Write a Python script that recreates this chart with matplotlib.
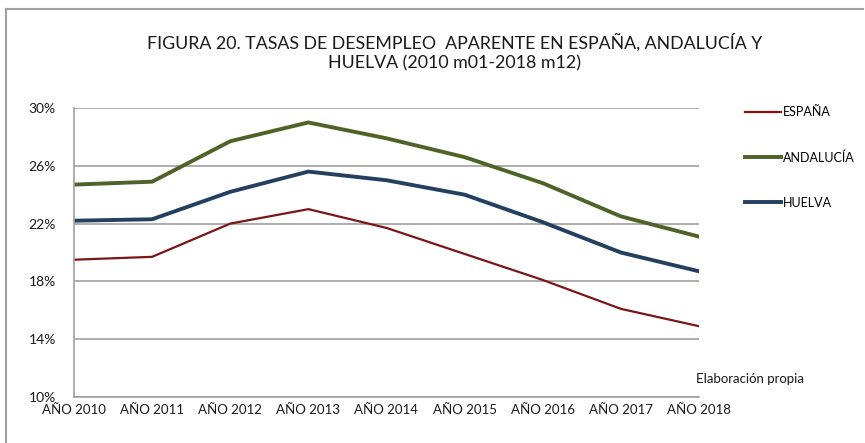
import matplotlib
matplotlib.use('Agg')
import matplotlib.pyplot as plt
from matplotlib.lines import Line2D
from matplotlib.ticker import FuncFormatter

plt.rcParams['font.family'] = ['Lato', 'DejaVu Sans']

# datos (tasa de desempleo aparente, %)
anios = ['AÑO 2010', 'AÑO 2011', 'AÑO 2012', 'AÑO 2013', 'AÑO 2014',
         'AÑO 2015', 'AÑO 2016', 'AÑO 2017', 'AÑO 2018']
espana = [19.5, 19.7, 22.0, 23.0, 21.7, 19.9, 18.1, 16.1, 14.9]
andalucia = [24.7, 24.9, 27.7, 29.0, 27.9, 26.6, 24.8, 22.5, 21.1]
huelva = [22.2, 22.3, 24.2, 25.6, 25.0, 24.0, 22.1, 20.0, 18.7]
yticks = [10, 14, 18, 22, 26, 30]

fig = plt.figure(figsize=(8.65, 4.43), dpi=100)
ax = fig.add_axes([74/865, 1-397/443, 625/865, 289/443])

x = range(len(anios))
ax.plot(x, espana, color='#7b1618', lw=1.6, label='ESPAÑA')
ax.plot(x, andalucia, color='#4f6228', lw=2.8, label='ANDALUCÍA')
ax.plot(x, huelva, color='#243f60', lw=2.8, label='HUELVA')

ax.set_xlim(0, len(anios) - 1)
ax.set_ylim(10, 30)
ax.set_yticks(yticks)
ax.yaxis.set_major_formatter(FuncFormatter(lambda v, p: f'{v:.0f}%'))
ax.set_xticks(list(x))
ax.set_xticklabels(anios)
ax.tick_params(axis='both', length=0, labelsize=9.5, colors='#1a1a1a')
ax.tick_params(axis='y', pad=13, labelsize=10)
ax.tick_params(axis='x', pad=5)
ax.grid(axis='y', color='#a0a0a0', lw=1.2)
ax.set_axisbelow(True)
for s in ['top', 'right']:
    ax.spines[s].set_visible(False)
for s in ['left', 'bottom']:
    ax.spines[s].set_color('#a0a0a0')
    ax.spines[s].set_linewidth(1.2)

fig.legend(loc='upper left', bbox_to_anchor=(745/865, 1-106/443), frameon=False,
           fontsize=9, labelspacing=2.65, handlelength=2.9, handletextpad=0.1,
           borderpad=0, borderaxespad=0)

fig.text(455/865, 1-52.5/443,
         'FIGURA 20. TASAS DE DESEMPLEO  APARENTE EN ESPAÑA, ANDALUCÍA Y\nHUELVA (2010 m01-2018 m12)',
         ha='center', va='center', fontsize=12.8, linespacing=1.28, color='#1a1a1a')
fig.text(696/865, 1-379/443, 'Elaboración propia', ha='left', va='center',
         fontsize=9.5, color='#1a1a1a')

# marco gris superior e izquierdo
fig.add_artist(Line2D([6/865, 863/865], [1-9/443, 1-9/443], color='#a0a0a0', lw=1.5))
fig.add_artist(Line2D([6/865, 6/865], [1-9/443, 0], color='#a0a0a0', lw=1.5))

fig.savefig('out.png', dpi=100)
